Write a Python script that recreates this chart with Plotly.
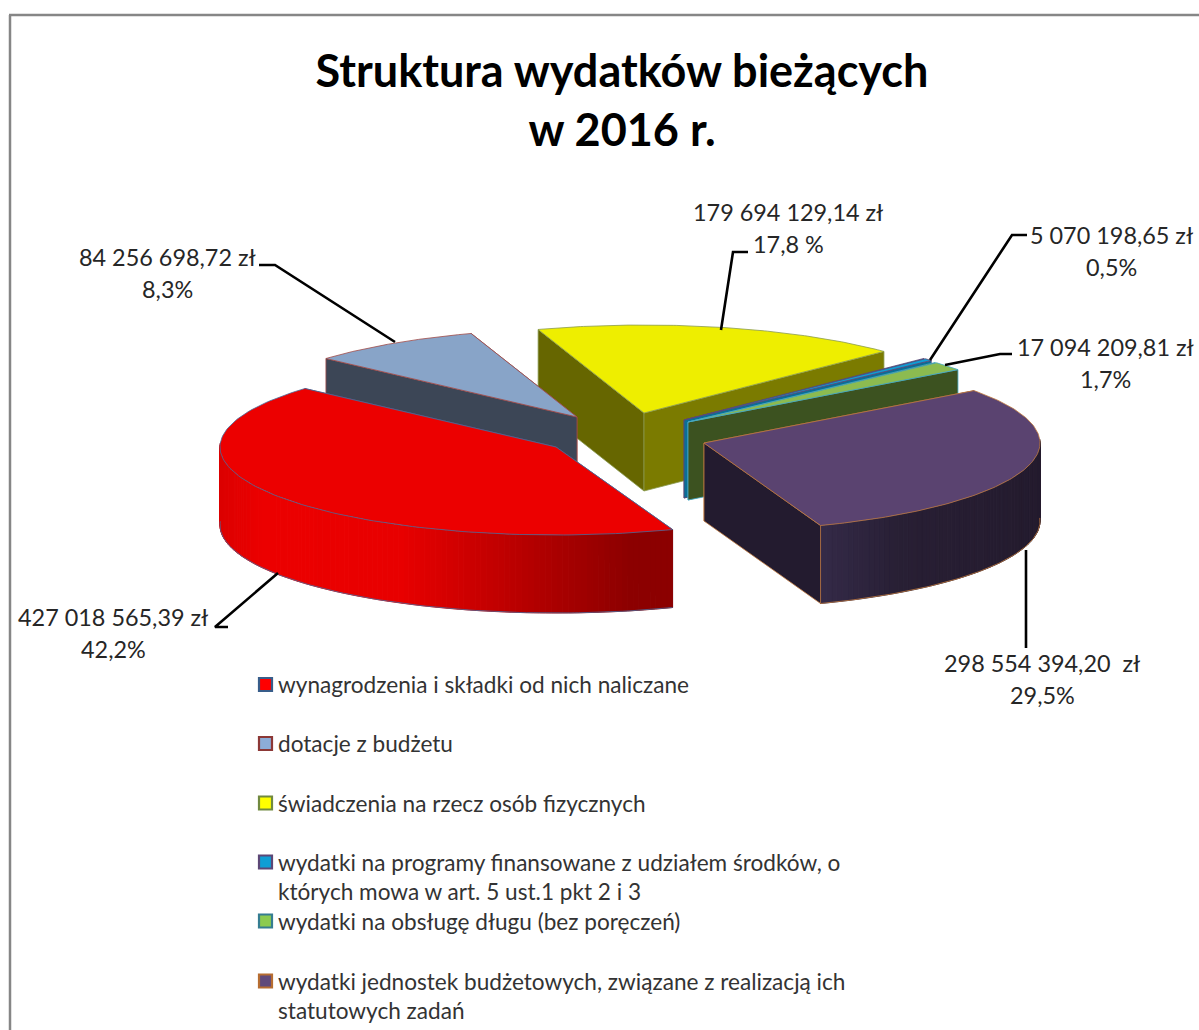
import math
import plotly.graph_objects as go

# ---- data ----
categories = [
    "wynagrodzenia i składki od nich naliczane",
    "dotacje z budżetu",
    "świadczenia na rzecz osób fizycznych",
    "wydatki na programy finansowane z udziałem środków, o<br>których mowa w art. 5 ust.1 pkt 2 i 3",
    "wydatki na obsługę długu (bez poręczeń)",
    "wydatki jednostek budżetowych, związane z realizacją ich<br>statutowych zadań",
]
values = [427018565.39, 84256698.72, 179694129.14, 5070198.65, 17094209.81, 298554394.20]
value_labels = ["427 018 565,39 zł", "84 256 698,72 zł", "179 694 129,14 zł",
                "5 070 198,65 zł", "17 094 209,81 zł", "298 554 394,20  zł"]
percent_labels = ["42,2%", "8,3%", "17,8 %", "0,5%", "1,7%", "29,5%"]
title_text = "Struktura wydatków bieżących<br>w 2016 r."

# ---- styles and layout ----
top_col = ["#EC0000", "#88A4C8", "#EEEE00", "#0F9ED5", "#8CBB50", "#5A4370"]
edge_col = ["#4A6A9A", "#A04A48", "#8A9A50", "#5C4776", "#46AAC5", "#C07A40"]
wall_start = ["#6E0000", "#3C4656", "#666600", "#0B6E96", "#3C5220", "#231B2F"]
wall_end = ["#6E0000", "#3C4656", "#7B7B00", "#0B6E96", "#3C5220", "#231B2F"]
legend_fill = ["#FF0000", "#8CADD8", "#FFFF00", "#0F9ED5", "#8CCB50", "#604A7B"]
legend_edge = ["#385D8A", "#8C3836", "#71893F", "#5C4776", "#357D91", "#B66D31"]
# shading stops of the curved outer walls: (screen x, colour)
red_stops = [(221, (220, 0, 0)), (262, (236, 0, 0)), (400, (232, 0, 0)), (630, (140, 0, 0)), (673, (140, 0, 0))]
purple_stops = [(820, (52, 42, 72)), (900, (40, 31, 52)), (1041, (36, 27, 46))]
flat_wall = (60, 70, 86)

centers = [(556, 447), (577, 417), (644, 413), (684, 420), (688, 422), (704, 443)]
A, B, H = 336.0, 88.0, 78.0
START = 159.7
draw_order = [2, 1, 3, 4, 5, 0]

total = sum(values)
starts, cum = [], START
for v in values:
    starts.append(cum)
    cum += v / total * 360.0


def pt(c, deg, drop=0.0):
    r = math.radians(deg)
    return c[0] + A * math.sin(r), c[1] - B * math.cos(r) + drop


def shade(stops, x):
    if x <= stops[0][0]:
        return stops[0][1]
    for (x0, c0), (x1, c1) in zip(stops, stops[1:]):
        if x <= x1:
            s = (x - x0) / (x1 - x0)
            return tuple(round(c0[j] + (c1[j] - c0[j]) * s) for j in range(3))
    return stops[-1][1]


def poly(xs, ys, fill, line, width=1.0, name=None):
    return go.Scatter(x=xs, y=ys, mode="lines", fill="toself", fillcolor=fill,
                      line=dict(color=line, width=width), hoverinfo="skip" if name is None else "name",
                      name=name or "", showlegend=False)


fig = go.Figure()
for i in draw_order:
    c = centers[i]
    a0, a1 = starts[i], starts[i] + values[i] / total * 360.0
    # radial walls, back one first
    walls = [(a0, wall_start[i]), (a1, wall_end[i])]
    walls.sort(key=lambda w: pt(c, w[0])[1])
    for ang, col in walls:
        p = pt(c, ang)
        fig.add_trace(poly([c[0], p[0], p[0], c[0], c[0]],
                           [c[1], p[1], p[1] + H, c[1] + H, c[1]], col, edge_col[i], 0.8))
    # outer curved wall, in narrow strips for the shading
    n = max(2, int(a1 - a0))
    for k in range(n):
        d0 = a0 + (a1 - a0) * k / n
        d1 = a0 + (a1 - a0) * (k + 1) / n
        if math.cos(math.radians((d0 + d1) / 2)) > 0.05:
            continue
        p0, p1 = pt(c, d0), pt(c, d1)
        xm = (p0[0] + p1[0]) / 2
        rgb = shade(red_stops, xm) if i == 0 else shade(purple_stops, xm) if i == 5 else flat_wall
        col = f"rgb{rgb}"
        fig.add_trace(poly([p0[0], p1[0], p1[0], p0[0], p0[0]],
                           [p0[1], p1[1], p1[1] + H, p0[1] + H, p0[1]], col, col, 1.0))
    # rims of curved wall
    arc = [a0 + (a1 - a0) * k / 120 for k in range(121)]
    arc_front = [d for d in arc if math.cos(math.radians(d)) < 0.05]
    if arc_front:
        pts = [pt(c, d, H) for d in arc_front]
        fig.add_trace(go.Scatter(x=[q[0] for q in pts], y=[q[1] for q in pts], mode="lines",
                                 line=dict(color=edge_col[i], width=0.8), hoverinfo="skip", showlegend=False))
        if i == 5:
            q = pt(c, a1)
            fig.add_trace(go.Scatter(x=[q[0], q[0]], y=[q[1], q[1] + H], mode="lines",
                                     line=dict(color=edge_col[i], width=0.8), hoverinfo="skip", showlegend=False))
    # top face
    pts = [pt(c, d) for d in arc]
    fig.add_trace(poly([c[0]] + [q[0] for q in pts] + [c[0]],
                       [c[1]] + [q[1] for q in pts] + [c[1]],
                       top_col[i], edge_col[i], 0.8, name=categories[i].replace("<br>", " ")))

# leader lines
leaders = [
    ([228, 215, 278], [627, 627, 573]),
    ([259, 275, 395], [265, 265, 342]),
    ([748, 733, 721], [252, 252, 330]),
    ([1027, 1012, 930], [235, 235, 360]),
    ([1012, 1000, 945], [354, 354, 365]),
    ([1026, 1026], [550, 648]),
]
for xs, ys in leaders:
    fig.add_trace(go.Scatter(x=xs, y=ys, mode="lines", line=dict(color="#000000", width=2.6),
                             hoverinfo="skip", showlegend=False))

# legend keys
legend_y = [684.5, 743.5, 803, 862, 921, 981]
legend_text_y = [684, 743, 803, 876.5, 921, 995.5]
fig.add_trace(go.Scatter(x=[265.5] * 6, y=legend_y, mode="markers",
                         marker=dict(symbol="square", size=13, color=legend_fill,
                                     line=dict(color=legend_edge, width=2.2)),
                         hoverinfo="skip", showlegend=False))

annotations = []
for cat, y in zip(categories, legend_text_y):
    annotations.append(dict(x=276, y=y, text=cat, xanchor="left", yanchor="middle", align="left",
                            showarrow=False, font=dict(family="Lato", size=22.6, color="#333333")))
label_x = [113, 167, 788, 1111, 1105, 1042]
value_y = [617, 257, 212, 235, 347, 663]
percent_y = [649, 289, 244, 267, 379, 695]
for vl, pl, x, y0, y1 in zip(value_labels, percent_labels, label_x, value_y, percent_y):
    for txt, y in ((vl, y0), (pl, y1)):
        annotations.append(dict(x=x, y=y, text=txt, xanchor="center", yanchor="middle", align="center",
                                showarrow=False, font=dict(family="Lato", size=23.4, color="#262626")))

fig.update_layout(
    width=1199, height=1030, margin=dict(l=0, r=0, t=0, b=0),
    paper_bgcolor="white", plot_bgcolor="white", showlegend=False,
    title=dict(text=title_text, x=622 / 1199, xanchor="center", y=1 - 87 / 1030, yanchor="middle",
               font=dict(family="Lato", size=45, color="#000000", weight="bold")),
    xaxis=dict(range=[0, 1199], visible=False, fixedrange=True),
    yaxis=dict(range=[1030, 0], visible=False, fixedrange=True),
    annotations=annotations,
    shapes=[dict(type="line", xref="x", yref="y", x0=10, x1=10, y0=15, y1=1030, line=dict(color="#868686", width=2.5)),
            dict(type="line", xref="x", yref="y", x0=9, x1=1199, y0=15, y1=15, line=dict(color="#868686", width=2.5))],
)
fig.write_html("out.html", config=dict(displayModeBar=False),
               post_script="document.body.style.margin='0';document.body.style.overflow='hidden';")
